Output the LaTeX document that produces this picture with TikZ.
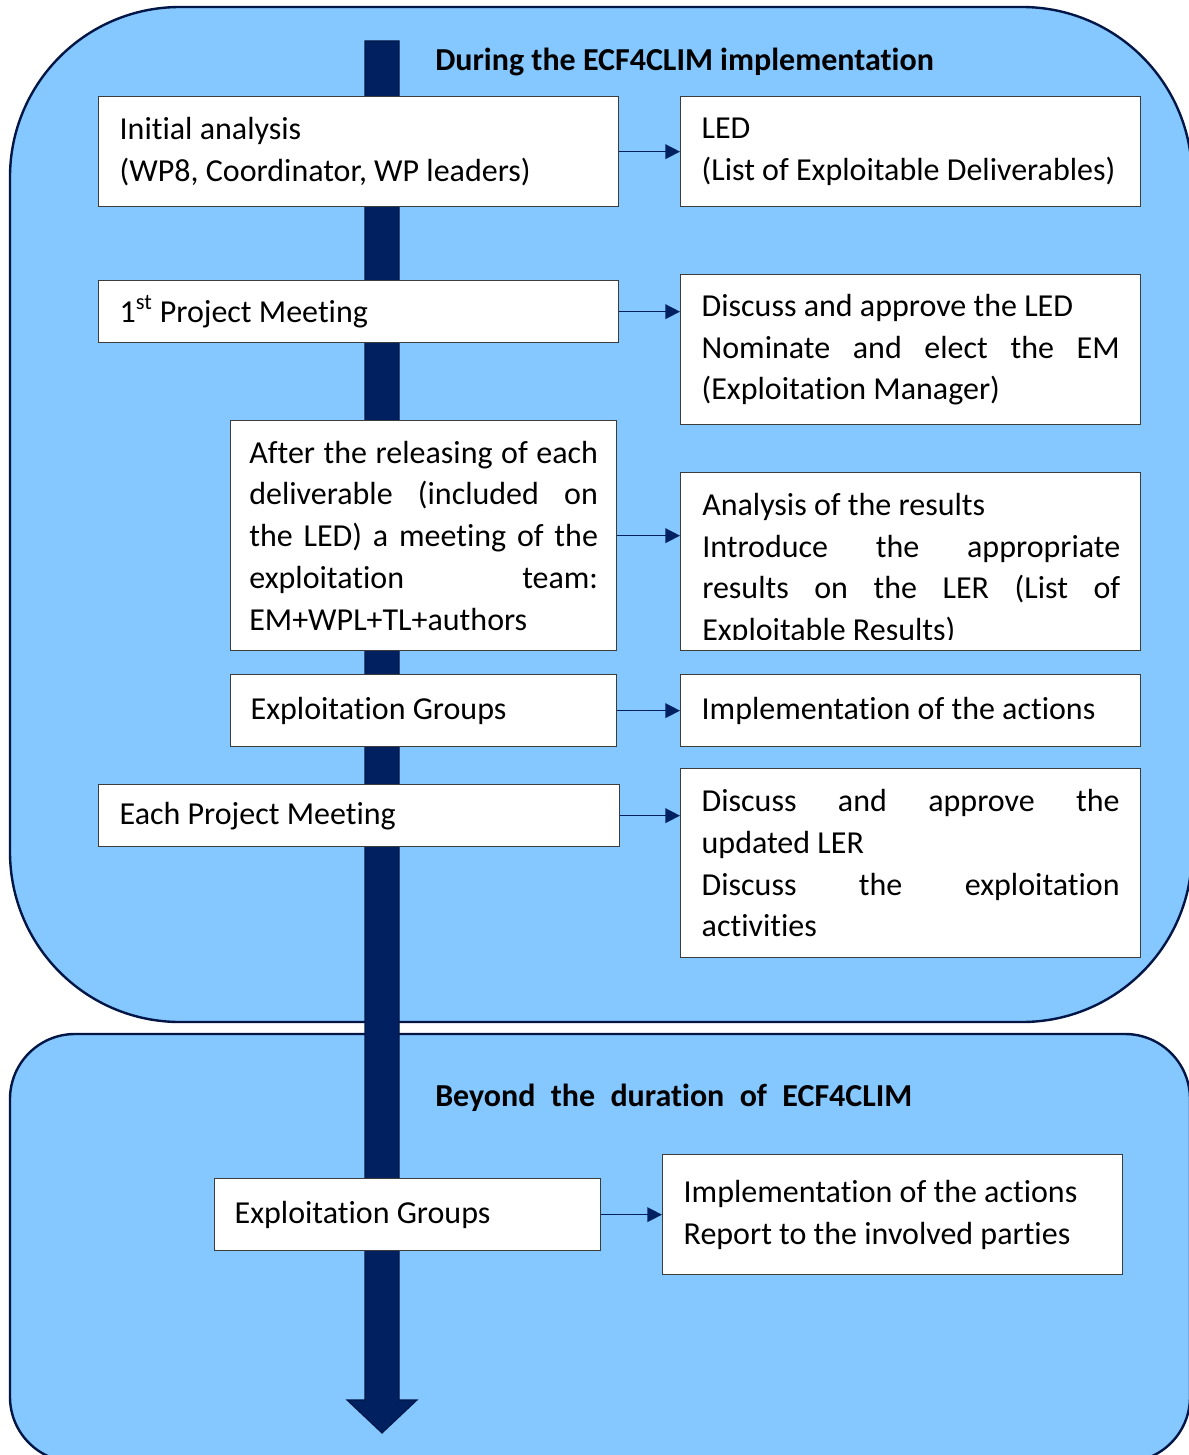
\documentclass[tikz,border=0pt]{standalone}
\usepackage{fontspec}
\setmainfont{Carlito}[Ligatures={NoCommon}]
\usetikzlibrary{arrows.meta,calc}
\definecolor{lblue}{RGB}{133,199,255}
\definecolor{navy}{RGB}{0,32,96}
\definecolor{navyd}{RGB}{0,22,70}
\definecolor{bgray}{RGB}{60,60,60}
\setlength{\parindent}{0pt}
\setlength{\parskip}{0pt}
\newcommand{\bodyfont}{\fontsize{24}{31.3}\selectfont}
\tikzset{
  panel/.style={draw=navyd, fill=lblue, line width=1.8pt},
  box/.style={draw=bgray, fill=white, line width=1pt, anchor=north west,
    inner xsep=15.75pt, inner ysep=0pt, font=\bodyfont, align=justify},
  txt/.style={inner sep=0pt, anchor=north west, font=\bodyfont, align=justify},
  conn/.style={draw=navy, line width=1.1pt, -{Triangle[length=11pt,width=11pt]}},
  ttl/.style={font=\bodyfont\bfseries, anchor=west, inner sep=0pt},
  rail/.style={fill=navy, draw=navyd, line width=0.8pt},
}
\begin{document}
\begin{tikzpicture}[x=0.75pt,y=-0.75pt]
\useasboundingbox (0,0) rectangle (1188,1455);
\fill[white] (0,0) rectangle (1188,1455);
% panels
\path[panel, rounded corners=127.5pt] (10,7) rectangle (1192,1022);
\path[panel, rounded corners=48.75pt] (10,1034) rectangle (1190,1462);
% timeline arrow
\path[rail] (365,41) -- (399,41) -- (399,1400) -- (417,1400) -- (382,1433)
  -- (347,1400) -- (365,1400) -- cycle;
% titles
\node[ttl] (t1) at (435,62) {During the ECF4CLIM implementation};
\node[ttl] (t2) at (435,1098) {\makebox[357.75pt][s]{Beyond the duration of ECF4CLIM}};
% boxes
\node[box, text width=358.5pt, minimum height=82.5pt] (init) at (98,96)
  {Initial analysis\par (WP8, Coordinator, WP leaders)};
\node[box, text width=313.5pt, minimum height=82.5pt] (led) at (680,96)
  {LED\par (List of Exploitable Deliverables)};
\node[box, text width=358.5pt, minimum height=46.5pt] (m1) at (98,280)
  {1\textsuperscript{st} Project Meeting};
\node[box, text width=313.5pt, minimum height=112.5pt] (disc1) at (680,274)
  {Discuss and approve the LED\par Nominate and elect the EM\linebreak (Exploitation Manager)};
\node[box, inner xsep=14pt, text width=261.5pt, minimum height=172.5pt] (after) at (230,420)
  {After the releasing of each\linebreak deliverable (included on\linebreak the LED) a meeting of the\linebreak exploitation team:\linebreak EM+WPL+TL+authors};
\node[box, text width=313.5pt, minimum height=133.5pt] (anal) at (680,472) {};
\begin{scope}
  \clip (anal.north west) rectangle ($(anal.south east)+(0,-12)$);
  \node[txt, text width=313.5pt] (analt) at ($(anal.north west)+(22,21)$)
    {Analysis of the results\par Introduce the appropriate\linebreak results on the LER (List of\linebreak Exploitable Results)};
\end{scope}
\node[box, inner xsep=15pt, text width=259.5pt, minimum height=54pt] (eg1) at (230,674)
  {Exploitation Groups};
\node[box, text width=313.5pt, minimum height=54pt] (impl1) at (680,674)
  {Implementation of the actions};
\node[box, text width=359.25pt, minimum height=46.5pt] (each) at (98,784)
  {Each Project Meeting};
\node[box, text width=313.5pt, minimum height=141.75pt] (disc2) at (680,768)
  {Discuss and approve the\linebreak updated LER\par Discuss the exploitation\linebreak activities};
\node[box, inner xsep=15pt, text width=259.5pt, minimum height=54pt] (eg2) at (214,1178)
  {Exploitation Groups};
\node[box, text width=313.5pt, minimum height=90pt] (impl2) at (662,1154)
  {Implementation of the actions\par Report to the involved parties};
% connectors
\draw[conn] (init.east) -- (init.east -| led.west);
\draw[conn] (m1.east) -- (m1.east -| disc1.west);
\draw[conn] (after.east) -- (after.east -| anal.west);
\draw[conn] (eg1.east) -- (eg1.east -| impl1.west);
\draw[conn] (each.east) -- (each.east -| disc2.west);
\draw[conn] (eg2.east) -- (eg2.east -| impl2.west);
\end{tikzpicture}
\end{document}
